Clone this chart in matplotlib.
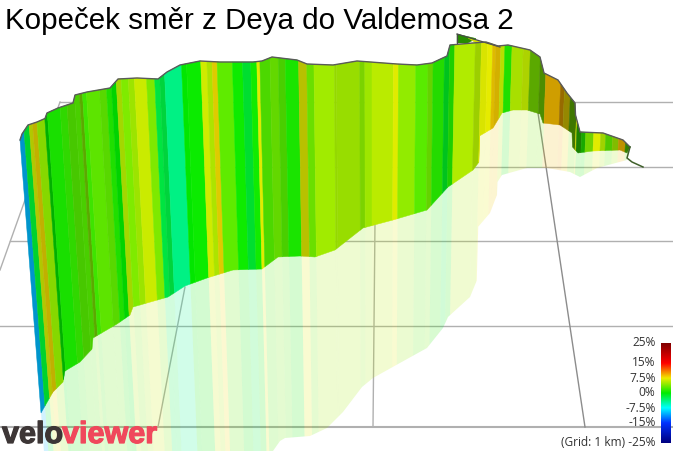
import numpy as np
import matplotlib
matplotlib.use("Agg")
import matplotlib.pyplot as plt
import matplotlib.patheffects as pe
from matplotlib.colors import LinearSegmentedColormap, Normalize

# Ridge of the climb wall, in the projected coordinates of the 3D view
ridge_x = [20, 22, 28, 37, 45, 47, 58, 73, 75, 87, 110, 118, 137, 158, 167, 180, 200, 220, 253, 262, 272,
           297, 307, 333, 357, 397, 417, 432, 447, 450, 473, 486, 498, 508, 530, 540, 544, 558, 567, 575,
           575.5, 580, 603, 623, 630]
ridge_y = [140, 134, 125, 122, 118.5, 113, 108, 103, 95, 92, 88, 79, 78, 79, 72, 65, 61, 62, 62, 61, 57,
           60, 64, 65, 61, 64, 65, 63, 56, 45, 43, 42, 46, 45, 50, 57, 73, 80, 93, 103,
           115, 132, 133, 140, 147]

# Foot of the wall, where it meets its reflection
foot_x = [41, 53, 63, 65, 80, 92, 93, 117, 130, 133, 168, 185, 207, 233, 262, 278, 300, 315, 335, 363,
          393, 427, 448, 473, 479, 479.5, 493, 502, 513, 527, 540, 543, 560, 572, 572.5, 578, 593, 620,
          627, 630]
foot_y = [413, 392, 382, 371, 362, 349, 338, 324, 315, 307, 297, 286, 278, 270, 269, 257, 256, 257, 250,
          228, 220, 210, 187, 170, 162, 136, 128, 113, 110, 110, 114, 123, 125, 133, 147, 153, 151, 150,
          153, 147]

# Lower outline of the pale reflection
mirror_x = [43, 273, 280, 285, 310, 327, 343, 362, 373, 427, 443, 448, 470, 477, 478, 490, 495, 497, 497.5,
            502, 527, 547, 570, 580, 597, 627, 630]
mirror_y = [451, 451, 441, 438, 436, 428, 412, 387, 378, 348, 328, 317, 297, 280, 227, 213, 200, 195, 182,
            175, 168, 168, 172, 177, 168, 160, 150]

# Tail of the route past the end of the wall
tail_x = [630, 627, 632, 643]
tail_y = [147, 158, 162, 167]

# Spur of road showing behind the summit
spur_x = [[457, 457, 468, 476], [468, 476, 490, 500]]
spur_y = [[34, 43, 43, 38.5], [38, 43, 43, 47]]
spur_grade = [2, 7]
spur_shade = [0.6, 0.95]

# Gradient bands along the route: right-hand edge, gradient in %, shading of the wall
band_edge = [25.5, 31, 34.5, 39, 47, 50, 63, 70, 78, 83, 86, 90, 103, 110, 115, 120, 125, 132, 138,
             150, 158, 163, 168, 185, 190, 204, 210, 215, 220, 235, 245, 253, 259, 262, 272, 280, 287,
             300, 308, 315, 335, 337, 360, 365, 372, 393, 398, 415, 427, 432, 443, 448, 453, 473, 479,
             485, 490, 493, 498, 502, 509, 520, 527, 537, 543, 558, 562, 568, 575, 576, 581, 585, 593,
             600, 605, 612, 618, 625, 630]
band_grade = [-10, -1.5, 6.5, 8, 4.5, 0, 0.8, 1.6, 2.6, 2.6, 4, 2, 3, 3, 1, 0, 5.5, 4, 5, 6.3,
              4, -2, -2, -4, 0, 0.3, 6.5, 5.5, 8, 3, 0.4, -1.5, 0.5, 7, 2.6, 3.4, 2.6,
              0.8, 7, 3.5, 5, 5, 5, 4.2, 5, 5.8, 7, 4.5, 2.8, 3.5, 1.2, -1, 1, 5.5, 5.5,
              7, 7.2, 8.5, 8.5, 6, 1, 5.5, 6, 4, 4, 9, 9.5, 8, 4, 7, 1.5, 1, 4,
              7, 5.5, 3, 5, 9, 3]
band_shade = [0.8, 0.88, 0.85, 0.8, 0.92, 0.75, 0.95, 0.92, 0.85, 0.88, 0.72, 0.97, 0.97, 0.92, 0.95, 0.9, 0.92, 1, 0.97, 1,
              0.99, 0.95, 0.88, 0.98, 0.98, 1, 1, 0.97, 0.92, 1, 1, 0.93, 1, 1, 0.92, 0.92, 0.88,
              0.97, 0.82, 0.95, 1, 0.92, 0.94, 0.9, 0.98, 1, 1, 1, 1, 0.9, 0.93, 0.82, 0.88, 1, 0.88,
              0.97, 1, 0.92, 0.87, 0.95, 0.95, 0.95, 0.9, 0.72, 0.6, 0.85, 0.62, 0.62, 0.5, 0.9, 0.55, 0.72, 0.9,
              1, 0.9, 0.85, 0.8, 0.78, 0.55]

# Floor grid of the 3D view
grid_y = [102, 167, 241, 326, 427]
grid_width = [1.0, 1.0, 1.0, 1.0, 1.5]
rail_left_x = [0, 60]
rail_left_y = [270, 102]
rail_x = [[158, 185], [373, 375], [585, 538]]
rail_y = [[427, 287], [427, 222], [427, 113]]
rail_color = ["#b0b0b0", "#b0b0b0", "#8c8c8c"]

# Gradient colour scale
scale_grades = [-25, -15, -7.5, 0, 7.5, 15, 25]
scale_colors = ["#000080", "#0032ff", "#00ffff", "#00eb00", "#f0eb00", "#ff0000", "#800000"]
tick_labels = ["25%", "15%", "7.5%", "0%", "-7.5%", "-15%", "(Grid: 1 km) -25%"]
tick_values = [25, 15, 7.5, 0, -7.5, -15, -25]

VANISH_X = 373
VANISH_Y = 4727
REF_Y = 150


# Bands lean towards a far vanishing point, so work in a sheared coordinate
def unshear(x, y):
    return VANISH_X + (np.asarray(x, float) - VANISH_X) * (VANISH_Y - REF_Y) / (VANISH_Y - np.asarray(y, float))


def shear(u, y):
    return VANISH_X + (np.asarray(u, float) - VANISH_X) * (VANISH_Y - np.asarray(y, float)) / (VANISH_Y - REF_Y)


def band_polygon(u0, u1, upper_u, upper_y, lower_u, lower_y):
    us_up = np.unique(np.r_[u0, u1, upper_u[(upper_u > u0) & (upper_u < u1)]])
    us_lo = np.unique(np.r_[u0, u1, lower_u[(lower_u > u0) & (lower_u < u1)]])
    y_up = np.interp(us_up, upper_u, upper_y)
    y_lo = np.interp(us_lo, lower_u, lower_y)
    xs = np.r_[shear(us_up, y_up), shear(us_lo[::-1], y_lo[::-1])]
    ys = np.r_[y_up, y_lo[::-1]]
    return xs, ys


grade_norm = Normalize(-25, 25)
grade_cmap = LinearSegmentedColormap.from_list(
    "grade", [(grade_norm(g), c) for g, c in zip(scale_grades, scale_colors)], N=512)


def band_color(grade, shade):
    r, g, b, _ = grade_cmap(grade_norm(grade))
    return (r * shade, g * shade, b * shade)


fig = plt.figure(figsize=(6.73, 4.51), dpi=100)
ax = fig.add_axes([0, 0, 1, 1])
ax.set_xlim(0, 673)
ax.set_ylim(451, 0)
ax.axis("off")

# Floor grid
for y, w in zip(grid_y, grid_width):
    x_start = np.interp(y, rail_left_y[::-1], rail_left_x[::-1]) if y < 270 else 0
    ax.plot([x_start, 673], [y, y], color="#b0b0b0", lw=w, zorder=1)
ax.plot(rail_left_x, rail_left_y, color="#b0b0b0", lw=1.0, zorder=1)
for xs, ys, c in zip(rail_x, rail_y, rail_color):
    ax.plot(xs, ys, color=c, lw=1.0, zorder=1)

ridge_u = unshear(ridge_x, ridge_y)
foot_u = unshear(foot_x, foot_y)
mirror_u = unshear(mirror_x, mirror_y)

# Spur behind the summit
for xs, ys, g, s in zip(spur_x, spur_y, spur_grade, spur_shade):
    ax.fill(xs, ys, color=band_color(g, s), lw=0.3, zorder=2)
ax.plot([457, 457], [43, 34], color="#4a4a4a", lw=0.9, zorder=5)
ax.plot([457, 500], [34, 47], color="#4a4a4a", lw=0.9, zorder=5)

# Wall and its reflection, one polygon for each gradient band
u_start = ridge_u[0]
for edge, grade, shade in zip(band_edge, band_grade, band_shade):
    u_end = float(edge)
    color = band_color(grade, shade)
    xs, ys = band_polygon(u_start, u_end, ridge_u, ridge_y, foot_u, foot_y)
    ax.fill(xs, ys, facecolor=color, edgecolor=color, lw=0.35, zorder=3)
    xs, ys = band_polygon(u_start, u_end, foot_u, foot_y, mirror_u, mirror_y)
    ax.fill(xs, ys, facecolor=band_color(grade, 1.0), edgecolor="none", alpha=0.18, lw=0, zorder=2)
    u_start = u_end

ax.plot(ridge_x, ridge_y, color="#5a5a5a", lw=1.0, zorder=5, solid_joinstyle="round")
ax.plot(tail_x, tail_y, color="#3f5f2a", lw=1.1, zorder=5)

ax.text(5, 29, "Kopeček směr z Deya do Valdemosa 2", family="Liberation Sans", fontsize=21.25,
        color="black", ha="left", va="baseline", zorder=6)

# Gradient legend on a linear scale
cax = fig.add_axes([661 / 673, 1 - 443 / 451, 10 / 673, 100 / 451])
cax.imshow(np.linspace(25, -25, 200).reshape(-1, 1), cmap=grade_cmap, norm=grade_norm, aspect="auto",
           extent=[0, 1, -25, 25])
cax.axis("off")
for value, label in zip(tick_values, tick_labels):
    ax.text(655.5, 393 - value * 2, label, family="Open Sans", fontsize=8.6, color="#333333",
            ha="right", va="center", zorder=6)

# Site logo
logo_edge = 0.9
ax.text(2, 443, "velo", family="Liberation Sans", weight="bold", fontsize=22, color="#3d3636", ha="left",
        va="baseline", zorder=7, path_effects=[pe.withStroke(linewidth=logo_edge, foreground="#3d3636")])
ax.text(62, 443, "viewer", family="Liberation Sans", weight="bold", fontsize=22, color="#f0485c", ha="left",
        va="baseline", zorder=7, path_effects=[pe.withStroke(linewidth=logo_edge, foreground="#f0485c")])

fig.savefig("out.png", dpi=100)
